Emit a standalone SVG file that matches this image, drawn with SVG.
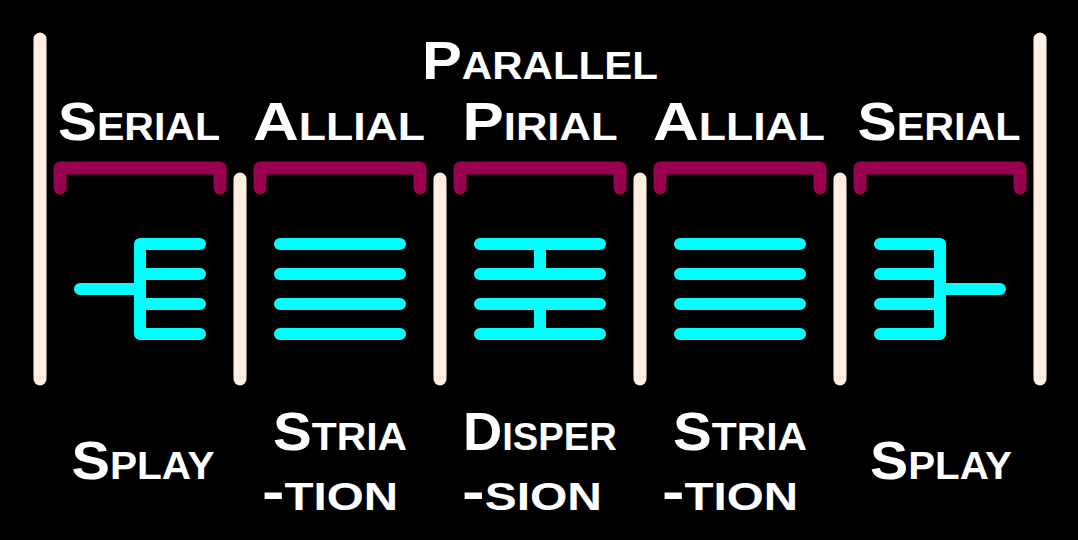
<svg xmlns="http://www.w3.org/2000/svg" width="1078" height="540" viewBox="0 0 1078 540">
<style>
.bar{stroke:#FFEFE2;stroke-width:13;stroke-linecap:round;fill:none}
.br{stroke:#99004F;stroke-width:13;stroke-linecap:round;stroke-linejoin:round;fill:none}
.cy{stroke:#00FFFF;stroke-width:12;stroke-linecap:round;stroke-linejoin:round;fill:none}
text{font-family:"Liberation Sans",Arial,sans-serif;font-weight:bold;font-variant:small-caps;fill:#FFFFFF;font-size:54px;text-anchor:middle}
</style>
<rect width="1078" height="540" fill="#000000"/>
<g id="connectors">
<line class="bar" x1="40" y1="39" x2="40" y2="379"/>
<line class="bar" x1="1040" y1="39" x2="1040" y2="379"/>
<line class="bar" x1="240" y1="179" x2="240" y2="379"/>
<line class="bar" x1="440" y1="179" x2="440" y2="379"/>
<line class="bar" x1="640" y1="179" x2="640" y2="379"/>
<line class="bar" x1="840" y1="179" x2="840" y2="379"/>
</g>
<g id="title"><text x="540" y="79" textLength="236" lengthAdjust="spacingAndGlyphs">Parallel</text></g>
<g id="n1">
<text x="139" y="140" textLength="162" lengthAdjust="spacingAndGlyphs">Serial</text>
<path class="br" d="M60,188 V168 H220 V188"/>
<path class="cy" d="M200,244 H140 V334 H200 M140,274 H200 M140,304 H200 M80,289 H140"/>
<text x="143" y="479" textLength="143" lengthAdjust="spacingAndGlyphs">Splay</text>
</g>
<g id="n2">
<text x="339" y="140" textLength="172" lengthAdjust="spacingAndGlyphs">Allial</text>
<path class="br" d="M260,188 V168 H420 V188"/>
<path class="cy" d="M280,244 H400 M280,274 H400 M280,304 H400 M280,334 H400"/>
<text x="340" y="450" textLength="134" lengthAdjust="spacingAndGlyphs">Stria</text>
<text x="330" y="510" textLength="136" lengthAdjust="spacingAndGlyphs">-tion</text>
</g>
<g id="n3">
<text x="540" y="140" textLength="155" lengthAdjust="spacingAndGlyphs">Pirial</text>
<path class="br" d="M460,188 V168 H620 V188"/>
<path class="cy" d="M480,244 H600 M480,274 H600 M480,304 H600 M480,334 H600 M540,244 V274 M540,304 V334"/>
<text x="540" y="450" textLength="154" lengthAdjust="spacingAndGlyphs">Disper</text>
<text x="532" y="510" textLength="140" lengthAdjust="spacingAndGlyphs">-sion</text>
</g>
<g id="n4">
<text x="739" y="140" textLength="172" lengthAdjust="spacingAndGlyphs">Allial</text>
<path class="br" d="M660,188 V168 H820 V188"/>
<path class="cy" d="M680,244 H800 M680,274 H800 M680,304 H800 M680,334 H800"/>
<text x="740" y="450" textLength="134" lengthAdjust="spacingAndGlyphs">Stria</text>
<text x="730" y="510" textLength="136" lengthAdjust="spacingAndGlyphs">-tion</text>
</g>
<g id="n5">
<text x="939" y="140" textLength="163" lengthAdjust="spacingAndGlyphs">Serial</text>
<path class="br" d="M860,188 V168 H1020 V188"/>
<path class="cy" d="M880,244 H940 V334 H880 M880,274 H940 M880,304 H940 M940,289 H1000"/>
<text x="941" y="479" textLength="142" lengthAdjust="spacingAndGlyphs">Splay</text>
</g>
</svg>
